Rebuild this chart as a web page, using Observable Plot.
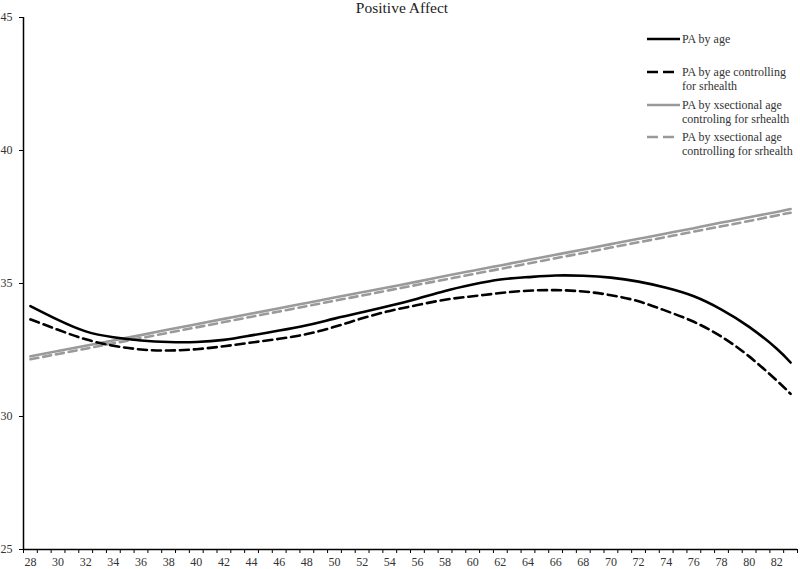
<!DOCTYPE html>
<html>
<head>
<meta charset="utf-8">
<script src="https://cdn.jsdelivr.net/npm/d3@7"></script>
<script src="https://cdn.jsdelivr.net/npm/@observablehq/plot@0.6"></script>
<style>
  html, body { margin: 0; padding: 0; background: #fff; }
  #chart svg { display: block; }
</style>
</head>
<body>
<div id="chart"></div>
<script>
const title = "Positive Affect";
const ages = [28,30,32,34,36,38,40,42,44,46,48,50,52,54,56,58,60,62,64,66,68,70,72,74,76,78,80,82,83];
const paByAge = [34.15,33.63,33.20,32.98,32.86,32.80,32.80,32.88,33.05,33.23,33.43,33.68,33.92,34.16,34.43,34.72,34.96,35.15,35.24,35.30,35.29,35.22,35.07,34.84,34.52,34.02,33.37,32.55,32.03];
const paByAgeCtrl = [33.65,33.26,32.90,32.66,32.52,32.48,32.53,32.64,32.78,32.92,33.10,33.37,33.69,33.97,34.19,34.39,34.52,34.64,34.73,34.75,34.70,34.56,34.33,33.97,33.56,33.00,32.26,31.35,30.85];
const paXsect = [32.26,32.46,32.66,32.86,33.06,33.27,33.47,33.67,33.87,34.07,34.27,34.47,34.67,34.87,35.07,35.28,35.48,35.68,35.88,36.08,36.28,36.48,36.68,36.88,37.08,37.29,37.49,37.69,37.80];
const paXsectCtrl = [32.15,32.35,32.55,32.75,32.95,33.15,33.35,33.55,33.75,33.95,34.15,34.35,34.55,34.75,34.95,35.15,35.35,35.55,35.75,35.95,36.15,36.35,36.55,36.75,36.95,37.15,37.35,37.56,37.66];
const seriesNames = ["PA by age", "PA by age controlling\nfor srhealth", "PA by xsectional age\ncontroling for srhealth", "PA by xsectional age\ncontrolling for srhealth"];
const yTicks = [25,30,35,40,45];
const xTickLabels = [28,30,32,34,36,38,40,42,44,46,48,50,52,54,56,58,60,62,64,66,68,70,72,74,76,78,80,82];
const xTickBoundaries = d3.range(27.5, 84, 1);

const toRows = vals => ages.map((a, i) => ({age: a, value: vals[i]}));
const styles = [
  {stroke: "#000", dash: null},
  {stroke: "#000", dash: "9,5"},
  {stroke: "#9a9a9a", dash: null},
  {stroke: "#9a9a9a", dash: "8,5"}
];
const seriesVals = [paByAge, paByAgeCtrl, paXsect, paXsectCtrl];
const serif = "'Liberation Serif', 'Times New Roman', serif";

const plot = Plot.plot({
  width: 800,
  height: 569,
  marginLeft: 23,
  marginRight: 3,
  marginTop: 17,
  marginBottom: 20,
  x: {domain: [27.5, 83.5], axis: null},
  y: {domain: [25, 45], axis: null},
  style: {fontFamily: serif, fontSize: "12px", color: "#333", background: "#fff"},
  marks: [
    Plot.axisY(yTicks, {tickSize: 4, tickPadding: 7, stroke: "#000", fill: "#333", fontSize: 12, label: null}),
    Plot.axisX(xTickBoundaries, {tickSize: 4, tickFormat: () => "", stroke: "#000", label: null}),
    Plot.axisX(xTickLabels, {tickSize: 0, tickPadding: 7.5, fill: "#333", fontSize: 12, label: null}),
    Plot.ruleX([27.5], {stroke: "#000", strokeWidth: 1.5}),
    Plot.ruleY([25], {stroke: "#000", strokeWidth: 1.5}),
    ...[2, 3, 1, 0].map(i => Plot.line(toRows(seriesVals[i]), {
      x: "age", y: "value", curve: "natural",
      stroke: styles[i].stroke, strokeWidth: 2.6,
      strokeDasharray: styles[i].dash || undefined
    }))
  ]
});

document.getElementById("chart").appendChild(plot);

const svg = d3.select(plot);
svg.append("text")
  .attr("x", 402).attr("y", 13)
  .attr("text-anchor", "middle")
  .style("font-family", serif)
  .style("font-size", "15.5px")
  .attr("fill", "#222")
  .text(title);

const legendY = [39, 72, 105, 137];
const lg = svg.append("g").attr("text-anchor", "start");
seriesNames.forEach((name, i) => {
  lg.append("line")
    .attr("x1", 647).attr("x2", i === 1 || i === 3 ? 675 : 680)
    .attr("y1", legendY[i]).attr("y2", legendY[i])
    .attr("stroke", styles[i].stroke)
    .attr("stroke-width", 2.6)
    .attr("stroke-dasharray", styles[i].dash ? "11,5" : null);
  const t = lg.append("text")
    .attr("x", 682).attr("y", legendY[i] + 4)
    .attr("text-anchor", "start")
    .style("font-family", serif)
    .style("font-size", "12px")
    .attr("fill", "#333");
  name.split("\n").forEach((ln, j) => {
    t.append("tspan").attr("x", 682).attr("dy", j === 0 ? 0 : 14).text(ln);
  });
});
</script>
</body>
</html>
